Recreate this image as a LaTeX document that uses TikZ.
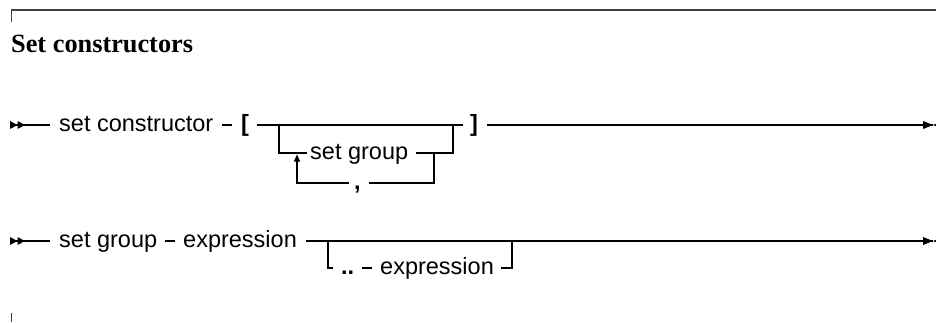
\documentclass[tikz,border=0pt]{standalone}
\usepackage{fontspec}
\setmainfont{Liberation Serif}
\setsansfont{Liberation Sans}
\usetikzlibrary{calc,arrows.meta}
\newcommand\raildash[2]{\draw[rail] ($(#1.east)!0.5!(#2.west)+(-5,0)$) -- ++(10,0);}
\newcommand\railstart[1]{%
  \fill ($(#1)+(0,-4)$) -- ++(7.5,4) -- ++(-7.5,4) -- cycle;
  \fill ($(#1)+(7.5,-4)$) -- ++(7.5,4) -- ++(-7.5,4) -- cycle;}
\newcommand\railend[1]{%
  \fill ($(#1)+(-10,-4)$) -- (#1) -- ++(-10,4) -- cycle;
  \fill (#1) -- ++(10,-4) -- ++(0,8) -- cycle;}
\begin{document}
\begin{tikzpicture}[x=1pt,y=-1pt,
  tok/.style={anchor=west,inner sep=0pt,font=\sffamily\fontsize{23.5}{23.5}\selectfont,text height=17pt,text depth=5pt},
  lit/.style={tok,font=\sffamily\bfseries\fontsize{23.5}{23.5}\selectfont},
  rail/.style={line width=1.1pt,black},
  frame/.style={line width=1.6pt,black!75}]
\useasboundingbox (0,0) rectangle (936,322);
% frame
\coordinate (fL) at (11,10);
\coordinate (fR) at (936,10);
\coordinate (fB) at (11,313);
\draw[frame] (fL) -- (fR);
\draw[line width=1pt,black!75] (fL) -- ++(0,12);
\draw[line width=1pt,black!75] (fB) -- ++(0,9);
\node[anchor=base west,inner sep=0pt,font=\bfseries\fontsize{26.3}{26.3}\selectfont] (title) at (11,52.5) {Set constructors};
% row 1
\coordinate (s1) at (10,125);
\node[tok] (sc) at (59,125) {set constructor};
\node[lit] (lb) at (241,125) {[};
\coordinate (b1L) at (279,125);
\coordinate (b1R) at (453,125);
\node[tok] (sg) at (310,153) {set group};
\coordinate (lpL) at (297,153);
\coordinate (lpR) at (434,153);
\node[lit] (cm) at (354,183) {,};
\node[lit] (rb) at (470,125) {]};
\coordinate (e1) at (933,125);
\railstart{s1}
\draw[rail,shorten >=9pt] (s1) -- (sc.west);
\raildash{sc}{lb}
\draw[rail,shorten <=8pt,shorten >=7pt] (lb.east) -- (rb.west);
\draw[rail,shorten >=3pt] (b1L) |- (sg.west);
\draw[rail,shorten <=8pt] (sg.east) -| (b1R);
\draw[rail,shorten >=8pt] (lpR) |- (cm.east);
\draw[rail,-{Triangle[length=7pt,width=6pt]},shorten <=5pt,shorten >=1.5pt] (cm.west) -| (lpL);
\draw[rail,shorten <=9pt] (rb.east) -- (e1);
\railend{e1}
% row 2
\coordinate (s2) at (10,241);
\node[tok] (sg2) at (59,241) {set group};
\node[tok] (ex1) at (183,241) {expression};
\coordinate (b2L) at (328,241);
\coordinate (b2R) at (512,241);
\node[lit] (dd) at (341,268) {..};
\node[tok] (ex2) at (380,268) {expression};
\coordinate (e2) at (933,241);
\railstart{s2}
\draw[rail,shorten >=9pt] (s2) -- (sg2.west);
\raildash{sg2}{ex1}
\draw[rail,shorten <=9pt] (ex1.east) -- (e2);
\draw[rail,shorten >=8pt] (b2L) |- (dd.west);
\raildash{dd}{ex2}
\draw[rail,shorten <=7pt] (ex2.east) -| (b2R);
\railend{e2}
\end{tikzpicture}
\end{document}
